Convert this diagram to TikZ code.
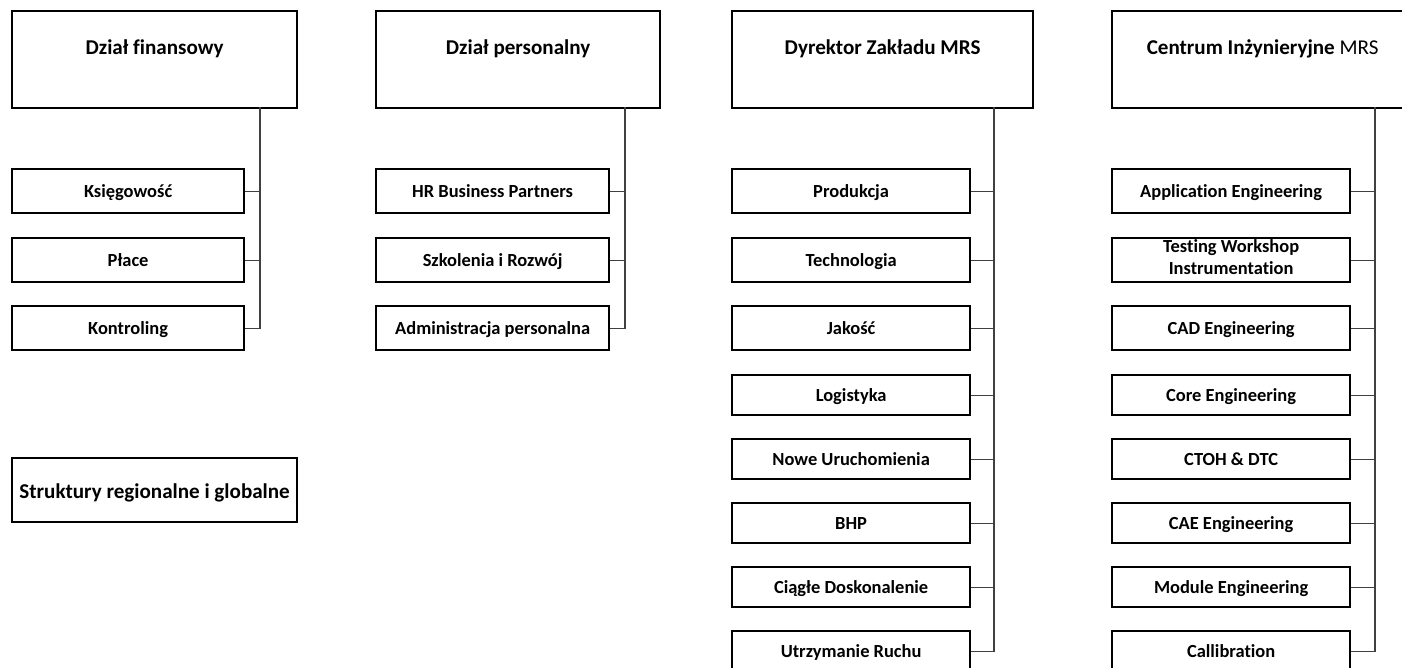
\documentclass[tikz,border=0pt]{standalone}
\usepackage{fontspec}
\setmainfont[Ligatures=NoCommon]{Carlito}

\tikzset{
  headbox/.style={draw, line width=1.3pt, anchor=north west, minimum height=1.94cm,
    text height=10pt, text depth=16.2pt, font=\bfseries\fontsize{12}{14}\selectfont},
  unitbox/.style={draw, line width=1.3pt, anchor=north west, inner sep=0pt,
    text height=7pt, text depth=0pt, font=\bfseries\fontsize{10.5}{12}\selectfont},
  conn/.style={line width=0.6pt, black!75},
}

\begin{document}
\begin{tikzpicture}[x=0.02cm, y=-0.02cm]
% Page size in pixels of the chart
\clip (0,0) rectangle (1402,667);

% Column 1: finance
\node[headbox, minimum width=5.7cm] (fin) at (11,10) {Dział finansowy};
\node[unitbox, minimum width=4.64cm, minimum height=0.88cm] (ksieg) at (11,168) {Księgowość};
\node[unitbox, minimum width=4.64cm, minimum height=0.88cm] (place) at (11,237) {Płace};
\node[unitbox, minimum width=4.64cm, minimum height=0.88cm] (kontr) at (11,305) {Kontroling};
\node[unitbox, minimum width=5.7cm, minimum height=1.28cm, text height=9pt,
  font=\bfseries\fontsize{12}{14}\selectfont] (strukt) at (11,457) {Struktury regionalne i globalne};
\coordinate (finSpine) at (260,107);
\draw[conn] (finSpine) |- (kontr.east);
\draw[conn] (ksieg.east) -- (ksieg.east -| finSpine);
\draw[conn] (place.east) -- (place.east -| finSpine);

% Column 2: personnel
\node[headbox, minimum width=5.68cm] (pers) at (375,10) {Dział personalny};
\node[unitbox, minimum width=4.66cm, minimum height=0.88cm] (hrbp) at (375,168) {HR Business Partners};
\node[unitbox, minimum width=4.66cm, minimum height=0.88cm] (szkol) at (375,237) {Szkolenia i Rozwój};
\node[unitbox, minimum width=4.66cm, minimum height=0.88cm] (admin) at (375,305) {Administracja personalna};
\coordinate (persSpine) at (625,107);
\draw[conn] (persSpine) |- (admin.east);
\draw[conn] (hrbp.east) -- (hrbp.east -| persSpine);
\draw[conn] (szkol.east) -- (szkol.east -| persSpine);

% Column 3: plant director
\node[headbox, minimum width=6.02cm] (dyr) at (731,10) {Dyrektor Zakładu MRS};
\node[unitbox, minimum width=4.76cm, minimum height=0.88cm] (prod) at (731,168) {Produkcja};
\node[unitbox, minimum width=4.76cm, minimum height=0.88cm] (tech) at (731,237) {Technologia};
\node[unitbox, minimum width=4.76cm, minimum height=0.88cm] (jakosc) at (731,305) {Jakość};
\node[unitbox, minimum width=4.76cm, minimum height=0.8cm] (logis) at (731,374) {Logistyka};
\node[unitbox, minimum width=4.76cm, minimum height=0.8cm] (nowe) at (731,438) {Nowe Uruchomienia};
\node[unitbox, minimum width=4.76cm, minimum height=0.8cm] (bhp) at (731,502) {BHP};
\node[unitbox, minimum width=4.76cm, minimum height=0.8cm] (ciagle) at (731,566) {Ciągłe Doskonalenie};
\node[unitbox, minimum width=4.76cm, minimum height=0.8cm] (utrzym) at (731,630) {Utrzymanie Ruchu};
\coordinate (dyrSpine) at (994,107);
\draw[conn] (dyrSpine) |- (utrzym.east);
\draw[conn] (prod.east) -- (prod.east -| dyrSpine);
\draw[conn] (tech.east) -- (tech.east -| dyrSpine);
\draw[conn] (jakosc.east) -- (jakosc.east -| dyrSpine);
\draw[conn] (logis.east) -- (logis.east -| dyrSpine);
\draw[conn] (nowe.east) -- (nowe.east -| dyrSpine);
\draw[conn] (bhp.east) -- (bhp.east -| dyrSpine);
\draw[conn] (ciagle.east) -- (ciagle.east -| dyrSpine);

% Column 4: engineering centre
\node[headbox, minimum width=6.02cm] (centr) at (1111,10) {Centrum Inżynieryjne \textmd{MRS}};
\node[unitbox, minimum width=4.76cm, minimum height=0.88cm] (appl) at (1111,168) {Application Engineering};
\node[unitbox, minimum width=4.76cm, minimum height=0.88cm, align=center, text height=16.5pt,
  font=\bfseries\fontsize{10.5}{12.6}\selectfont] (testw) at (1111,237) {Testing Workshop\\Instrumentation};
\node[unitbox, minimum width=4.76cm, minimum height=0.88cm] (cad) at (1111,305) {CAD Engineering};
\node[unitbox, minimum width=4.76cm, minimum height=0.8cm] (core) at (1111,374) {Core Engineering};
\node[unitbox, minimum width=4.76cm, minimum height=0.8cm] (ctoh) at (1111,438) {CTOH \& DTC};
\node[unitbox, minimum width=4.76cm, minimum height=0.8cm] (cae) at (1111,502) {CAE Engineering};
\node[unitbox, minimum width=4.76cm, minimum height=0.8cm] (module) at (1111,566) {Module Engineering};
\node[unitbox, minimum width=4.76cm, minimum height=0.8cm] (calib) at (1111,630) {Callibration};
\coordinate (centrSpine) at (1375,107);
\draw[conn] (centrSpine) |- (calib.east);
\draw[conn] (appl.east) -- (appl.east -| centrSpine);
\draw[conn] (testw.east) -- (testw.east -| centrSpine);
\draw[conn] (cad.east) -- (cad.east -| centrSpine);
\draw[conn] (core.east) -- (core.east -| centrSpine);
\draw[conn] (ctoh.east) -- (ctoh.east -| centrSpine);
\draw[conn] (cae.east) -- (cae.east -| centrSpine);
\draw[conn] (module.east) -- (module.east -| centrSpine);
\end{tikzpicture}
\end{document}
